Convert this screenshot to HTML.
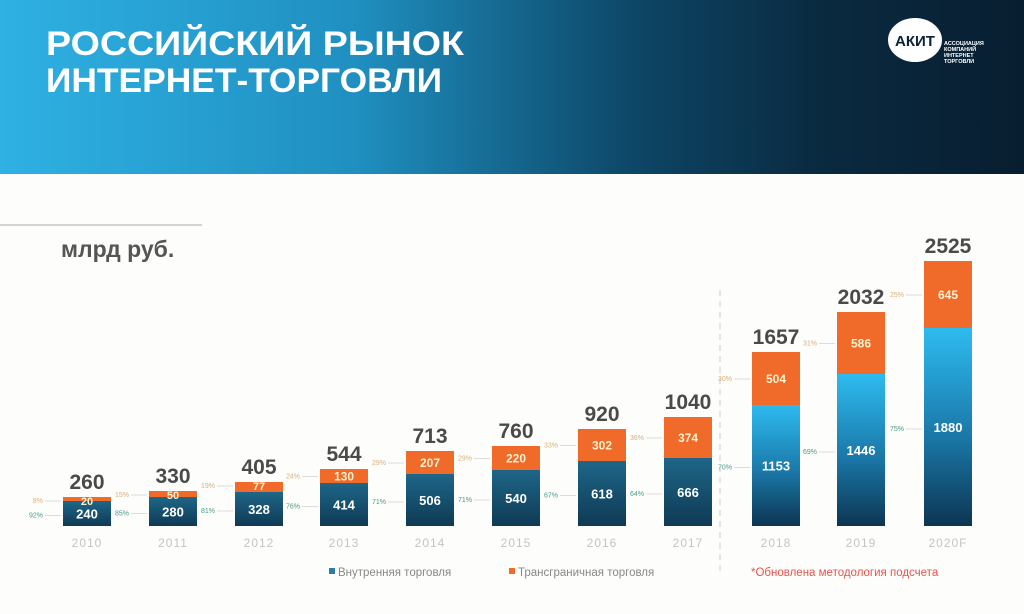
<!DOCTYPE html>
<html><head><meta charset="utf-8"><style>
html,body{margin:0;padding:0;width:1024px;height:614px;overflow:hidden;background:#fdfdfb;}
svg{display:block;font-family:"Liberation Sans","DejaVu Sans",sans-serif;}
</style></head><body>
<svg width="1024" height="614" viewBox="0 0 1024 614" xmlns="http://www.w3.org/2000/svg">
<defs>
<linearGradient id="hdr" x1="0" y1="0" x2="1" y2="0">
<stop offset="0" stop-color="#2fb1e3"/><stop offset="0.35" stop-color="#1f8fc0"/><stop offset="0.62" stop-color="#0d4666"/><stop offset="0.8" stop-color="#0a2a40"/><stop offset="1" stop-color="#081e30"/>
</linearGradient>
<linearGradient id="b1" x1="0" y1="0" x2="0" y2="1"><stop offset="0" stop-color="#1e6688"/><stop offset="1" stop-color="#0f3a55"/></linearGradient>
<linearGradient id="b2" x1="0" y1="0" x2="0" y2="1"><stop offset="0" stop-color="#2ebbef"/><stop offset="0.55" stop-color="#1a78a8"/><stop offset="1" stop-color="#0d3552"/></linearGradient>
</defs>
<rect x="0" y="0" width="1024" height="174" fill="url(#hdr)"/>
<text x="46" y="55" font-size="34" font-weight="bold" fill="#fff" textLength="418" lengthAdjust="spacingAndGlyphs">РОССИЙСКИЙ РЫНОК</text>
<text x="46" y="92" font-size="34" font-weight="bold" fill="#fff" textLength="396" lengthAdjust="spacingAndGlyphs">ИНТЕРНЕТ-ТОРГОВЛИ</text>
<ellipse cx="915" cy="40" rx="27" ry="22" fill="#fff"/>
<text x="915" y="46" font-size="15" font-weight="bold" fill="#0a2234" text-anchor="middle">АКИТ</text>
<g font-size="5.5" font-weight="bold" fill="#fff"><text x="944" y="45">АССОЦИАЦИЯ</text><text x="944" y="51">КОМПАНИЙ</text><text x="944" y="57">ИНТЕРНЕТ</text><text x="944" y="63">ТОРГОВЛИ</text></g>
<line x1="0" y1="225" x2="202" y2="225" stroke="#aaa" stroke-width="1"/>
<text x="61" y="257" font-size="23" font-weight="bold" fill="#555">млрд руб.</text>
<line x1="720" y1="290" x2="720" y2="575" stroke="#ccc" stroke-width="1" stroke-dasharray="6,5"/>
<g id="bars"></g>
<rect x="329" y="568" width="6" height="6" fill="#2a7fa8"/>
<text x="338" y="576" font-size="11.5" fill="#888">Внутренняя торговля</text>
<rect x="509" y="568" width="6" height="6" fill="#f06a2a"/>
<text x="518" y="576" font-size="11.5" fill="#888">Трансграничная торговля</text>
<text x="751" y="576" font-size="11.5" fill="#e8534a">*Обновлена методология подсчета</text>
</svg>
<script>
var d=[
[63,497,501,"260","20","240","8%","92%","2010",0],
[149,491,497,"330","50","280","15%","85%","2011",0],
[235,482,492,"405","77","328","19%","81%","2012",0],
[320,469,483,"544","130","414","24%","76%","2013",0],
[406,451,474,"713","207","506","29%","71%","2014",0],
[492,446,470,"760","220","540","29%","71%","2015",0],
[578,429,461,"920","302","618","33%","67%","2016",0],
[664,417,458,"1040","374","666","36%","64%","2017",0],
[752,352,405,"1657","504","1153","30%","70%","2018",1],
[837,312,374,"2032","586","1446","31%","69%","2019",1],
[924,261,328,"2525","645","1880","25%","75%","2020F",1]];
var B=526,W=48,s="";
d.forEach(function(r){
var x=r[0],o=r[1],b=r[2],cx=x+W/2;
s+='<rect x="'+x+'" y="'+b+'" width="'+W+'" height="'+(B-b)+'" fill="url(#'+(r[9]?'b2':'b1')+')"/>';
s+='<rect x="'+x+'" y="'+o+'" width="'+W+'" height="'+(b-o)+'" fill="#f06a2a"/>';
var oy=(o+b)/2+4.5, by=(b+B)/2+5;
if(b-o<12){oy=o+8;}
s+='<text x="'+cx+'" y="'+oy+'" font-size="'+(b-o<12?11:12)+'" font-weight="bold" fill="#fff2cf" text-anchor="middle">'+r[4]+'</text>';
s+='<text x="'+cx+'" y="'+by+'" font-size="13" font-weight="bold" fill="#fff" text-anchor="middle">'+r[5]+'</text>';
s+='<text x="'+cx+'" y="'+(o-8)+'" font-size="21" font-weight="bold" fill="#4a4a4a" text-anchor="middle">'+r[3]+'</text>';
s+='<text x="'+cx+'" y="547" font-size="12" fill="#c4c4c4" text-anchor="middle" letter-spacing="1">'+r[8]+'</text>';
s+='<text x="'+(x-20)+'" y="'+(oy-2)+'" font-size="7" fill="#d9b07a" text-anchor="end">'+r[6]+'</text>';
s+='<line x1="'+(x-18)+'" y1="'+(oy-4)+'" x2="'+(x-2)+'" y2="'+(oy-4)+'" stroke="#ccc" stroke-width="0.7"/>';
s+='<text x="'+(x-20)+'" y="'+(by-1)+'" font-size="7" fill="#4a9a8a" text-anchor="end">'+r[7]+'</text>';
s+='<line x1="'+(x-18)+'" y1="'+(by-3)+'" x2="'+(x-2)+'" y2="'+(by-3)+'" stroke="#ccc" stroke-width="0.7"/>';
});
document.getElementById("bars").innerHTML=s;
</script>
</body></html>
